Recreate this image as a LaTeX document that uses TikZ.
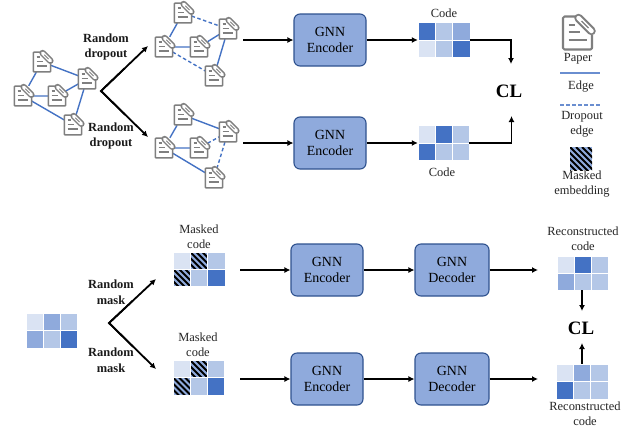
\documentclass[tikz,border=0pt]{standalone}
\usepackage{fontspec}
\setmainfont{Liberation Serif}
\usetikzlibrary{arrows.meta,calc}
\definecolor{cdark}{HTML}{4472C4}
\definecolor{cmed}{HTML}{8FAADC}
\definecolor{clight}{HTML}{B4C7E7}
\definecolor{clest}{HTML}{DAE3F3}
\definecolor{edgeblue}{HTML}{4472C4}
\definecolor{icongray}{HTML}{7F7F7F}
\definecolor{boxline}{HTML}{2F528F}
\tikzset{
  x=1bp,y=-1bp,
  lbl/.style={font=\fontsize{12.5}{15.5}\selectfont,align=center,text=black!85,inner sep=0pt},
  blbl/.style={font=\fontsize{12.5}{16}\selectfont\bfseries,align=center,text=black!90,inner sep=0pt},
  cllbl/.style={font=\fontsize{19}{20}\selectfont\bfseries,inner sep=0pt},
  gnn/.style={draw=boxline,fill=cmed,line width=1.1bp,rounded corners=6bp,minimum width=72bp,minimum height=52bp,align=center,inner sep=0pt,font=\fontsize{14}{16}\selectfont},
  arr/.style={draw=black,line width=1.8bp,-{Latex[length=6bp,width=6bp]}},
  vee/.style={draw=black,line width=1.8bp,line join=miter},
  link/.style={draw=edgeblue,line width=1.4bp},
  droplink/.style={draw=edgeblue,line width=1.4bp,dash pattern=on 3.5bp off 2.5bp},
  papernode/.style={inner sep=0pt,minimum width=17bp,minimum height=20bp},
  codenode/.style={inner sep=0pt,minimum width=52bp,minimum height=35bp},
}
\newcommand\hatchcell[4]{%
  \begin{scope}
    \clip (#1,#2) rectangle ++(#3,#4);
    \fill[cmed] (#1,#2) rectangle ++(#3,#4);
    \foreach \k in {-24,-18,...,24}
      \draw[black,line width=1.9bp] ($(#1,#2)+(\k,0)$) -- ++(30,30);
  \end{scope}}
\newcommand\drawpaper[3]{%
  \begin{scope}[shift={(#1)},scale=#2]
    \draw[icongray,line width=#3*2.1bp,line join=round,rounded corners=#2*1.5bp]
      (-2,-16.5) -- (-14.5,-16.5) -- (-14.5,16.5) -- (14.5,16.5) -- (14.5,2);
    \draw[icongray,line width=#3*8.5bp,line cap=round] (1,-15) -- (14,-2);
    \draw[white,line width=#3*4.5bp,line cap=round] (1,-15) -- (14,-2);
    \draw[icongray,line width=#3*1.2bp] (4,-12) -- (11,-5);
    \draw[icongray,line width=#3*2bp] (-9,-8) -- (-3,-8) (-9,-1) -- (2,-1) (-9,6.5) -- (9,6.5);
  \end{scope}}
\def\hatchname{hatch}
\newcommand\codegrid[6]{%
  \node[codenode,minimum width=#4 bp,minimum height=#5 bp] (#1) at (#2,#3) {};
  \pgfmathsetmacro\cw{#4/3}\pgfmathsetmacro\ch{#5/2}
  \foreach \col [count=\i from 0] in {#6} {
    \pgfmathtruncatemacro\cx{mod(\i,3)}
    \pgfmathtruncatemacro\cy{int(\i/3)}
    \pgfmathsetmacro\xx{#2-#4/2+\cx*\cw}
    \pgfmathsetmacro\yy{#3-#5/2+\cy*\ch}
    \ifx\col\hatchname
      \hatchcell{\xx}{\yy}{\cw}{\ch}
    \else
      \fill[\col] (\xx,\yy) rectangle ++(\cw,\ch);
    \fi
    \draw[white,line width=0.8bp] (\xx,\yy) rectangle ++(\cw,\ch);
  }}
\begin{document}
\begin{tikzpicture}
\useasboundingbox (0,0) rectangle (630,427);
\fill[white] (0,0) rectangle (630,427);

\node[papernode] (a1) at (42,62) {};
\node[papernode] (a2) at (23,96) {};
\node[papernode] (a3) at (57,96) {};
\node[papernode] (a4) at (87,79) {};
\node[papernode] (a5) at (73,125) {};
\node[papernode] (b1) at (183,13) {};
\node[papernode] (b2) at (164,47) {};
\node[papernode] (b3) at (199,47) {};
\node[papernode] (b4) at (228,29) {};
\node[papernode] (b5) at (214,76) {};
\node[papernode] (c1) at (183,115) {};
\node[papernode] (c2) at (164,148) {};
\node[papernode] (c3) at (199,148) {};
\node[papernode] (c4) at (228,132) {};
\node[papernode] (c5) at (214,178) {};

\draw[link] (a1)--(a2) (a1)--(a4) (a2)--(a3) (a3)--(a4) (a4)--(a5) (a2)--(a5);
\draw[link] (b1)--(b2) (b2)--(b3) (b3)--(b4) (b4)--(b5);
\draw[droplink] (b1)--(b4) (b2)--(b5);
\draw[link] (c1)--(c2) (c1)--(c4) (c2)--(c3) (c2)--(c5);
\draw[droplink] (c3)--(c4) (c4)--(c5);

\foreach \n in {a1,a2,a3,a4,a5,b1,b2,b3,b4,b5,c1,c2,c3,c4,c5}
  \drawpaper{\n}{0.6}{0.75};

\coordinate (s1) at (101,91);
\coordinate (s1a) at (148,46);
\coordinate (s1b) at (148,137);
\coordinate (s2) at (109,323);
\coordinate (s2a) at (156,279);
\coordinate (s2b) at (156,369);
\draw[vee] ($(s1)!0.5!(s1a)$)--(s1)--($(s1)!0.5!(s1b)$);
\draw[vee] ($(s2)!0.5!(s2a)$)--(s2)--($(s2)!0.5!(s2b)$);
\draw[arr] (s1)--(s1a);
\draw[arr] (s1)--(s1b);
\draw[arr] (s2)--(s2a);
\draw[arr] (s2)--(s2b);

\node[blbl] (l1) at (106,47) {Random\\dropout};
\node[blbl] (l2) at (111,136) {Random\\dropout};
\node[blbl] (l3) at (111,292) {Random\\mask};
\node[blbl] (l4) at (111,360) {Random\\mask};

\node[gnn] (e1) at (330,40) {GNN\\Encoder};
\node[gnn] (e2) at (330,143) {GNN\\Encoder};
\node[gnn] (e3) at (327,270) {GNN\\Encoder};
\node[gnn,minimum width=74bp] (d3) at (452,270) {GNN\\Decoder};
\node[gnn] (e4) at (327,379) {GNN\\Encoder};
\node[gnn,minimum width=74bp] (d4) at (452,379) {GNN\\Decoder};

\codegrid{k1}{444}{40}{52}{35}{cdark,clight,cmed,clest,clight,cdark}
\codegrid{k2}{443.5}{143}{51}{35}{clest,cdark,clight,cdark,clight,clight}
\codegrid{k0}{51.5}{330.5}{51}{35}{clest,cmed,clight,cmed,clight,cdark}
\codegrid{m1}{199}{269}{52}{34}{clest,hatch,clight,hatch,clight,cdark}
\codegrid{m2}{198.5}{377.5}{51}{35}{clest,hatch,clight,hatch,clight,cdark}
\codegrid{r1}{582.5}{273}{51}{34}{clest,cdark,clight,cmed,clight,clight}
\codegrid{r2}{582}{381.5}{52}{35}{clest,cmed,clight,cdark,clight,clight}

\node[cllbl] (cl1) at (509,91) {CL};
\node[cllbl] (cl2) at (581,328) {CL};

\coordinate (t1) at (243,40);
\coordinate (t2) at (243,143);
\coordinate (t3) at (240,270);
\coordinate (t4) at (240,379);
\coordinate (u3) at (538,270);
\coordinate (u4) at (538,379);
\coordinate (v1) at (511,64);
\coordinate (v2) at (511.5,116);
\coordinate (w1) at (582,311);
\coordinate (w2) at (582,343);

\draw[arr] (t1)--(e1.west);
\draw[arr] (e1.east)--(k1.west);
\draw[arr] (t2)--(e2.west);
\draw[arr] (e2.east)--(k2.west);
\draw[arr] (k1.east)-|(v1);
\draw[arr] (k2.east)-|(v2);
\draw[arr] (t3)--(e3.west);
\draw[arr] (e3.east)--(d3.west);
\draw[arr] (d3.east)--(u3);
\draw[arr] (t4)--(e4.west);
\draw[arr] (e4.east)--(d4.west);
\draw[arr] (d4.east)--(u4);
\draw[arr] (r1.south-|w1)--(w1);
\draw[arr] (r2.north-|w2)--(w2);

\node[lbl] (n1) at (444,13.5) {Code};
\node[lbl] (n2) at (442,172.5) {Code};
\node[lbl] (n3) at (199,236.5) {Masked\\code};
\node[lbl] (n4) at (198,345) {Masked\\code};
\node[lbl] (n5) at (583,239) {Reconstructed\\code};
\node[lbl] (n6) at (585,413.5) {Reconstructed\\code};

\node[papernode,minimum width=29bp,minimum height=33bp] (lp) at (577.5,33) {};
\drawpaper{lp}{1}{1};
\node[lbl] (lt1) at (578,59) {Paper};
\coordinate (le1) at (560,73);
\coordinate (le2) at (600,73);
\draw[link,line width=1.8bp,cmed!50!edgeblue] (le1)--(le2);
\node[lbl] (lt2) at (581,87) {Edge};
\coordinate (ld1) at (560,105);
\coordinate (ld2) at (600,105);
\draw[droplink,line width=1.8bp,cmed!50!edgeblue] (ld1)--(ld2);
\node[lbl] (lt3) at (582,124) {Dropout\\edge};
\hatchcell{570}{147}{22}{23}
\node[lbl] (lt4) at (582,184) {Masked\\embedding};
\end{tikzpicture}
\end{document}
